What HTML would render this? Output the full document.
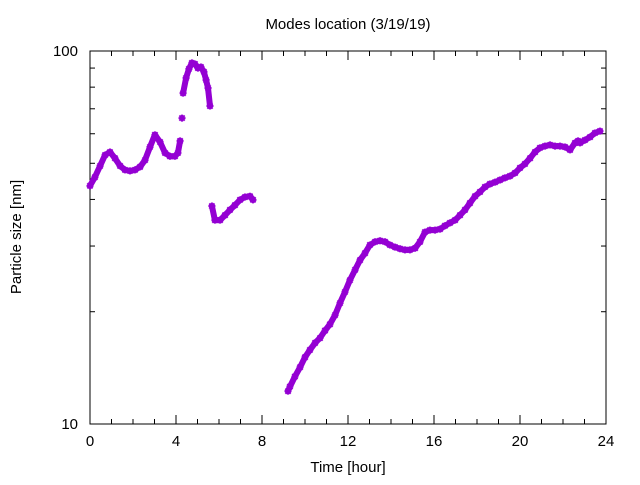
<!DOCTYPE html>
<html><head><meta charset="utf-8"><style>
body{margin:0;background:#fff}
svg{font-family:"Liberation Sans",sans-serif;font-size:15px}
</style></head><body>
<svg width="640" height="480">
<g id="axes"></g><g id="marks"></g>
</svg>
<script>
const hours=[0,.23,.47,.70,.93,1.16,1.40,1.63,1.86,2.09,2.33,2.56,2.79,3.02,3.26,3.49,3.72,3.95,4.09,4.19,4.28,4.33,4.47,4.60,4.74,4.88,5.02,5.16,5.30,5.40,5.49,5.58,5.67,5.81,6.05,6.28,6.51,6.74,6.98,7.21,7.44,7.58,
9.21,9.30,9.53,9.77,10.00,10.23,10.47,10.70,10.93,11.16,11.40,11.63,11.86,12.09,12.33,12.56,12.79,13.02,13.26,13.49,13.72,13.95,14.19,14.42,14.65,14.88,15.12,15.35,15.58,15.81,16.05,16.28,16.51,16.74,16.98,17.21,17.44,17.67,17.91,18.14,18.37,18.60,18.84,19.07,19.30,19.53,19.77,20.00,20.23,20.47,20.70,20.93,21.16,21.40,21.63,21.86,22.09,22.33,22.56,22.70,22.79,23.02,23.26,23.49,23.72,23.95];
const sizes=[43.5,45.9,49.2,52.6,53.6,51.6,49.2,48.0,47.7,48.0,48.9,51.0,55.3,59.6,57.0,53.3,52.2,52.2,53.3,57.4,66.1,77.1,84.7,89.5,92.9,92.3,90.0,90.6,87.9,83.6,79.6,71.2,38.4,35.2,35.2,36.3,37.5,38.6,39.9,40.6,40.8,39.9,
12.25,12.6,13.4,14.2,15.1,15.8,16.5,17.0,17.8,18.5,19.6,21.1,22.6,24.3,25.9,27.5,28.7,30.2,30.8,31.0,30.8,30.2,29.8,29.5,29.3,29.3,29.6,30.8,32.7,33.1,33.1,33.3,34.0,34.6,35.2,36.3,37.5,39.1,40.8,41.9,43.2,44.0,44.5,45.1,45.7,46.2,47.1,48.6,49.8,51.6,53.6,55.0,55.6,56.0,55.6,55.6,55.3,54.3,56.7,57.4,56.7,57.7,58.8,60.3,61.0];
const xTicks=[0,4,8,12,16,20,24];
const yTicks=[10,100];
const yMinor=[20,30,40,50,60,70,80,90];
const L=90,R=606,T=51,B=424;
const X=h=>L+(h-0)/24*(R-L);
const Y=v=>B-(Math.log10(v)-1)*(B-T);
const NS="http://www.w3.org/2000/svg";
function mk(tag,attrs,parent){const e=document.createElementNS(NS,tag);for(const k in attrs)e.setAttribute(k,attrs[k]);parent.appendChild(e);return e;}
const ax=document.getElementById('axes'),mg=document.getElementById('marks');
const frame=mk('rect',{x:L,y:T,width:R-L,height:B-T,fill:'none',stroke:'#000','stroke-width':1},ax);


for(let h=0;h<=24;h++){const major=h%4===0;const len=major?9:5;
 mk('line',{x1:X(h),x2:X(h),y1:B,y2:B-len,stroke:'#000'},ax);
 mk('line',{x1:X(h),x2:X(h),y1:T,y2:T+len,stroke:'#000'},ax);}
xTicks.forEach(t=>{const e=mk('text',{x:X(t),y:B+22,'text-anchor':'middle'},ax);e.textContent=t;
 
 });
yTicks.forEach(t=>{mk('line',{x1:L,x2:L+9,y1:Y(t),y2:Y(t),stroke:'#000'},ax);mk('line',{x1:R,x2:R-9,y1:Y(t),y2:Y(t),stroke:'#000'},ax);
 const e=mk('text',{x:L-12,y:Y(t)+5,'text-anchor':'end'},ax);e.textContent=t;
 
 });
yMinor.forEach(t=>{mk('line',{x1:L,x2:L+5,y1:Y(t),y2:Y(t),stroke:'#000'},ax);mk('line',{x1:R,x2:R-5,y1:Y(t),y2:Y(t),stroke:'#000'},ax);});
const ti=mk('text',{x:348,y:29,'text-anchor':'middle'},ax);ti.textContent='Modes location (3/19/19)';


const xl=mk('text',{x:348,y:472,'text-anchor':'middle'},ax);xl.textContent='Time [hour]';


const yl=mk('text',{x:21,y:237,'text-anchor':'middle',transform:'rotate(-90 21 237)'},ax);yl.textContent='Particle size [nm]';


const C='#9400d3';
let d='';
for(let i=0;i<hours.length;i++){
 const cont=i>0&&hours[i]-hours[i-1]<0.5&&Math.abs(Math.log(sizes[i]/sizes[i-1]))<0.12;
 d+=(cont?'L':'M')+X(hours[i]).toFixed(1)+' '+Y(sizes[i]).toFixed(1);
}
const p=mk('path',{d:d,fill:'none',stroke:C,'stroke-width':6,'stroke-linejoin':'round','stroke-linecap':'round'},mg);


for(let i=0;i<hours.length;i++){
 const x=X(hours[i]),y=Y(sizes[i]),s=3.5;
 const g=mk('path',{d:`M${x-s} ${y}H${x+s}M${x} ${y-s}V${y+s}M${x-s*.75} ${y-s*.75}L${x+s*.75} ${y+s*.75}M${x-s*.75} ${y+s*.75}L${x+s*.75} ${y-s*.75}`,stroke:C,'stroke-width':2},mg);
 
 
}
</script>
</body></html>
